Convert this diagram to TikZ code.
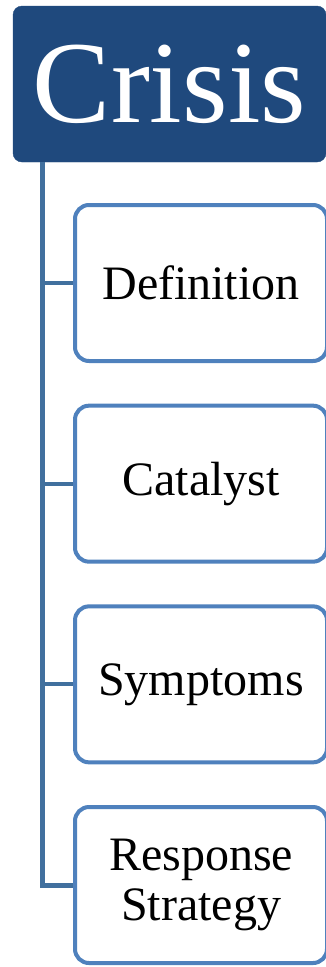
\documentclass[tikz,border=0pt]{standalone}
\usepackage{fontspec}
\setmainfont{Liberation Serif}
\definecolor{kdark}{HTML}{1F497D}
\definecolor{kline}{HTML}{41709E}
\definecolor{kbox}{HTML}{4F81BD}
\begin{document}
\begin{tikzpicture}[x=1pt,y=1pt]
\pgfmathsetmacro{\kystep}{200.67}
\pgfmathsetmacro{\kyfirst}{283}
\useasboundingbox(0,0)rectangle(325,-967);
\node[fill=kdark,draw=kdark,rounded corners=9pt,minimum width=313pt,minimum height=156pt,inner sep=0pt,text=white,font=\fontsize{117}{117}\selectfont](crisis)at(169.5,-84){Crisis};
\foreach \ky/\klb in {0/Definition,1/Catalyst,2/Symptoms,3/{Response\\Strategy}}{\node[draw=kbox,line width=4pt,rounded corners=14pt,fill=white,minimum width=252pt,minimum height=156pt,align=center,font=\fontsize{48}{50}\selectfont](c\ky)at(201,-\kyfirst-\ky*\kystep){\klb};}
\coordinate(spine)at(42.5,0);
\draw[kline,line width=5pt](crisis.south -| spine)|-(c3.west);
\foreach \ky in {0,1,2}{\draw[kline,line width=4pt](c\ky.west -| spine)--(c\ky.west);}
\end{tikzpicture}
\end{document}
